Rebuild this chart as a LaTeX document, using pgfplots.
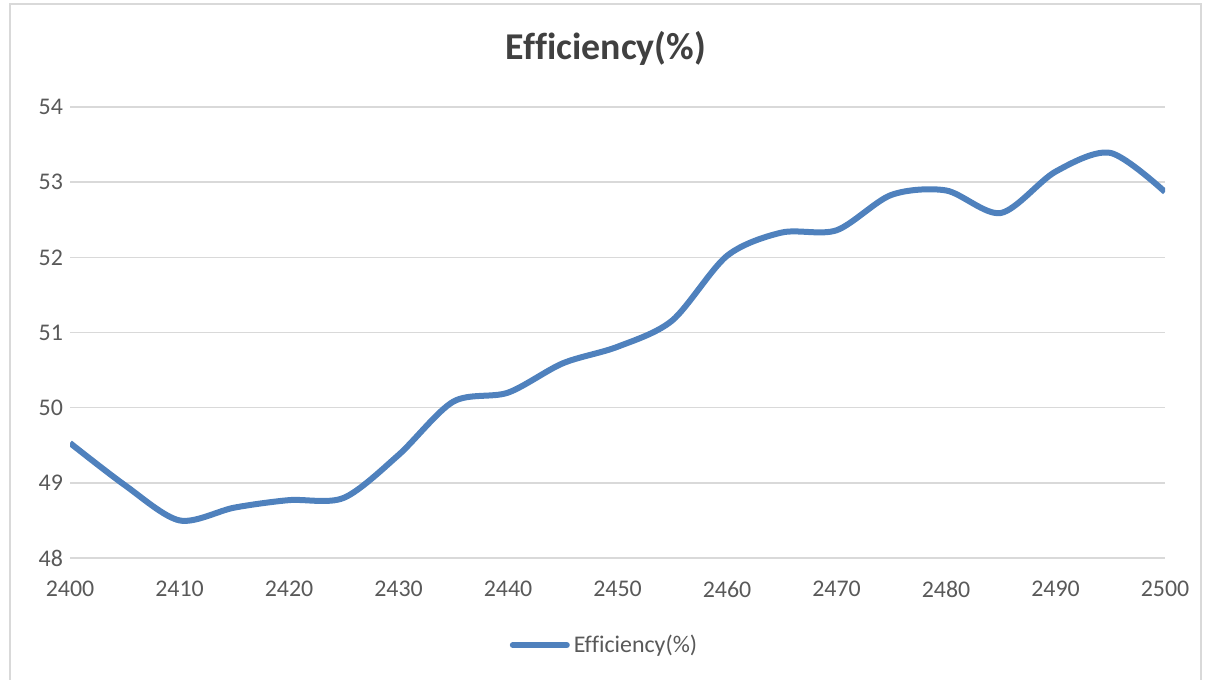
\documentclass[border=0pt]{standalone}
\usepackage{pgfplots}
\pgfplotsset{compat=1.18}
\usepackage{fontspec}
\setmainfont{Carlito}[Ligatures=NoCommon]
\definecolor{lineblue}{HTML}{4F81BD}
\definecolor{ticktxt}{HTML}{595959}
\definecolor{gridc}{HTML}{D9D9D9}
\definecolor{titlec}{HTML}{404040}
\begin{document}
\begin{tikzpicture}
\path[use as bounding box] (0,0) rectangle (603bp,340bp);
\draw[gridc, line width=0.8bp] (5bp,-2bp) -- (5bp,338bp) -- (600.5bp,338bp) -- (600.5bp,-2bp);
\node[font=\fontsize{19}{21}\selectfont\bfseries, text=titlec] at (303bp,316bp) {Efficiency(\%)};
\begin{axis}[
  at={(35bp,61bp)}, anchor=south west,
  scale only axis, width=547.5bp, height=225.5bp,
  xmin=2400, xmax=2500, ymin=48, ymax=54,
  xtick={2400,2410,...,2500}, ytick={48,49,...,54},
  ymajorgrids, grid style={gridc, line width=0.8bp},
  axis line style={draw=none}, tick style={draw=none},
  ticklabel style={font=\fontsize{12}{14}\selectfont, text=ticktxt},
  /pgf/number format/assume math mode=true,
  /pgf/number format/1000 sep={},
  xticklabel style={yshift=-8bp},
  yticklabel style={xshift=0bp},
  legend style={at={(0.489,-0.193)}, anchor=center, draw=none, font=\fontsize{12}{14}\selectfont, text=ticktxt, legend columns=1},
  legend image code/.code={\draw[#1, line width=3bp, line cap=round] (0bp,0bp) -- (27bp,0bp);},
]
\addplot[lineblue, line width=3bp, smooth, tension=0.5] coordinates {
(2400,49.53) (2405,48.97) (2410,48.50) (2415,48.67) (2420,48.77) (2425,48.80)
(2430,49.37) (2435,50.08) (2440,50.20) (2445,50.59) (2450,50.81) (2455,51.16)
(2460,52.02) (2465,52.33) (2470,52.36) (2475,52.83) (2480,52.89) (2485,52.59)
(2490,53.14) (2495,53.39) (2500,52.87)
};
\addlegendentry{Efficiency(\%)}
\end{axis}
\end{tikzpicture}
\end{document}
